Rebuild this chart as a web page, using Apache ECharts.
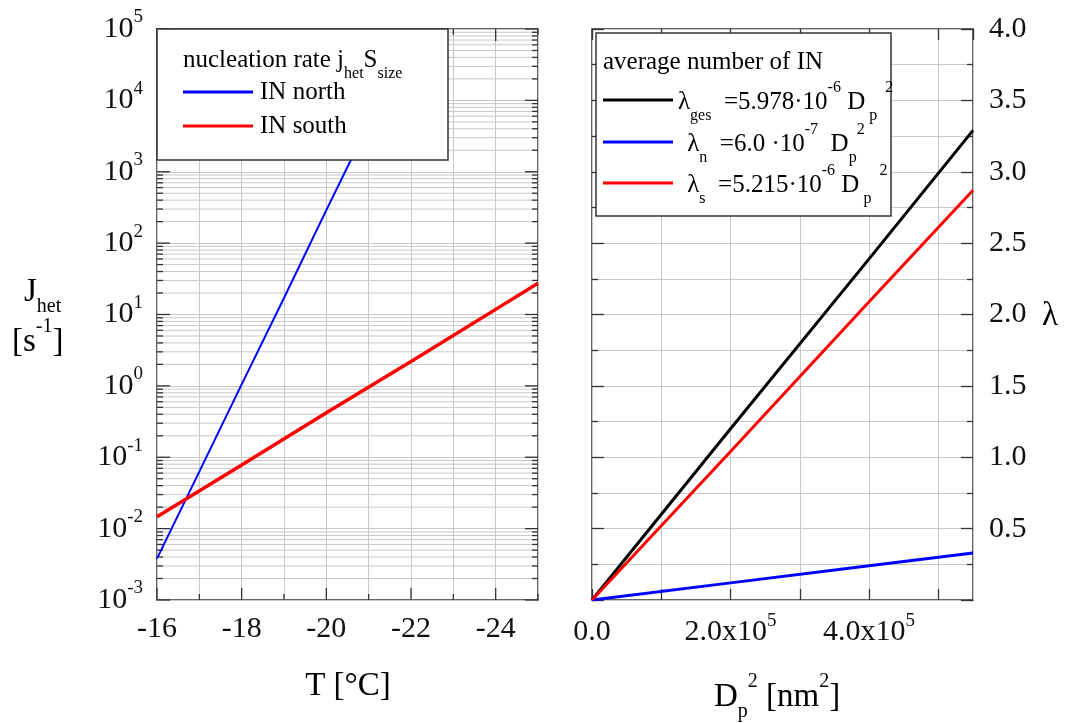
<!DOCTYPE html>
<html><head><meta charset="utf-8">
<script src="https://cdn.jsdelivr.net/npm/echarts@6/dist/echarts.min.js"></script>
<style>html,body{margin:0;padding:0;background:#fff}#c{width:1069px;height:723px}</style>
</head><body><div id="c"></div>
<script>
// ---- data ----
const T_NORTH = [-16, -17, -18, -19, -20, -21, -22];
const J_NORTH = [0.0038, 0.063, 1.05, 17, 290, 4700, 78000];
const T_SOUTH = [-16, -18, -20, -22, -24, -25];
const J_SOUTH = [0.0147, 0.078, 0.42, 2.2, 11.8, 27.4];
const DP2 = [0, 200000, 400000, 550000];
const LAMBDA_GES = [0, 1.2, 2.39, 3.29];
const LAMBDA_N = [0, 0.12, 0.24, 0.33];
const LAMBDA_S = [0, 1.04, 2.09, 2.87];
// ---- ticks ----
const T_TICKS = [-16, -17, -18, -19, -20, -21, -22, -23, -24, -25];
const LOG_EXPONENTS = [-3, -2, -1, 0, 1, 2, 3, 4, 5];
const MINOR_MANTISSAS = [2, 3, 4, 5, 6, 7, 8, 9];
const DP2_LABELS = { 0: '{b|0.0}', 200000: '{b|2.0x10}{e|5}', 400000: '{b|4.0x10}{e|5}' };

const FONT = 'Liberation Serif';
const AXIS_COLOR = '#333';
const GRID_COLOR = '#c8c8c8';

const decorData = [];
LOG_EXPONENTS.forEach(e => {
  decorData.push([-16, Math.pow(10, e), 1]);
  if (e < 5) MINOR_MANTISSAS.forEach(m => decorData.push([-16, m * Math.pow(10, e), 0]));
});
T_TICKS.forEach(t => decorData.push([t, 1, (t % 2 === 0) ? 3 : 2]));

function decor(params, api) {
  const xv = api.value(0), yv = api.value(1), k = api.value(2);
  const gray = { stroke: GRID_COLOR, lineWidth: 1 };
  const dark = { stroke: AXIS_COLOR, lineWidth: 1.3 };
  const kids = [];
  if (k <= 1) {
    const pl = api.coord([-16, yv]), pr = api.coord([-25, yv]);
    const y = pl[1], len = k === 1 ? 13 : 6;
    if (k === 0) kids.push({ type: 'line', shape: { x1: pl[0], y1: y, x2: pr[0], y2: y }, style: gray });
    kids.push({ type: 'line', shape: { x1: pl[0], y1: y, x2: pl[0] + len, y2: y }, style: dark });
    kids.push({ type: 'line', shape: { x1: pr[0], y1: y, x2: pr[0] - len, y2: y }, style: dark });
  } else {
    const pb = api.coord([xv, 1e-3]), pt = api.coord([xv, 1e5]);
    const len = k === 3 ? 12 : 6;
    kids.push({ type: 'line', shape: { x1: pb[0], y1: pb[1], x2: pb[0], y2: pb[1] - len }, style: dark });
    kids.push({ type: 'line', shape: { x1: pt[0], y1: pt[1], x2: pt[0], y2: pt[1] + len }, style: dark });
  }
  return { type: 'group', children: kids };
}

const legRich = {
  m: { fontFamily: FONT, fontSize: 25, lineHeight: 44, color: '#111' },
  sup: { fontFamily: FONT, fontSize: 16, lineHeight: 24, verticalAlign: 'top', color: '#111' },
  sub: { fontFamily: FONT, fontSize: 16, lineHeight: 14, verticalAlign: 'bottom', color: '#111' }
};
const axRich = {
  m: { fontFamily: FONT, fontSize: 33, lineHeight: 50, color: '#111' },
  sup: { fontFamily: FONT, fontSize: 20, lineHeight: 24, verticalAlign: 'top', color: '#111' },
  sub: { fontFamily: FONT, fontSize: 20, lineHeight: 18, verticalAlign: 'bottom', color: '#111' }
};
function txt(x, y, text, rich, align) {
  return { type: 'text', x: x, y: y, z: 100, style: { text: text, rich: rich, align: align || 'left', verticalAlign: 'middle' } };
}
function seg(x1, y1, x2, y2, color) {
  return { type: 'line', z: 100, shape: { x1, y1, x2, y2 }, style: { stroke: color, lineWidth: 3 } };
}
const tickStyle = { color: AXIS_COLOR, width: 1.3 };

const chart = echarts.init(document.getElementById('c'));
chart.setOption({
  backgroundColor: '#fff',
  animation: false,
  grid: [
    { left: 157, top: 29, width: 381, height: 571, show: true, borderColor: AXIS_COLOR, borderWidth: 1.5, backgroundColor: 'transparent' },
    { left: 592, top: 29, width: 381, height: 571, show: true, borderColor: AXIS_COLOR, borderWidth: 1.5, backgroundColor: 'transparent' }
  ],
  xAxis: [
    { gridIndex: 0, type: 'value', min: -25, max: -16, interval: 1, inverse: true,
      axisLine: { show: false, onZero: false }, axisTick: { show: false },
      splitLine: { show: true, lineStyle: { color: GRID_COLOR, width: 1 } },
      axisLabel: { fontFamily: FONT, fontSize: 30, color: '#111', margin: 14,
        formatter: v => (v % 2 === 0 ? String(v) : '') } },
    { gridIndex: 1, type: 'value', position: 'bottom', min: 0, max: 550000, interval: 100000,
      axisLine: { show: false, onZero: false },
      axisTick: { show: true, inside: true, length: 11, lineStyle: tickStyle },
      splitLine: { show: true, lineStyle: { color: GRID_COLOR, width: 1 } },
      axisLabel: { margin: 12, showMaxLabel: false, formatter: v => DP2_LABELS[v] || '',
        rich: { b: { fontFamily: FONT, fontSize: 30, lineHeight: 40, color: '#111' },
                e: { fontFamily: FONT, fontSize: 19, lineHeight: 22, verticalAlign: 'top', color: '#111' } } } },
    { gridIndex: 1, type: 'value', position: 'top', min: 0, max: 550000, interval: 100000,
      axisLine: { show: false, onZero: false }, axisLabel: { show: false }, splitLine: { show: false },
      axisTick: { show: true, inside: true, length: 11, lineStyle: tickStyle } }
  ],
  yAxis: [
    { gridIndex: 0, type: 'log', logBase: 10, min: 1e-3, max: 1e5,
      axisLine: { show: false, onZero: false }, axisTick: { show: false },
      splitLine: { show: true, lineStyle: { color: GRID_COLOR, width: 1 } },
      axisLabel: { margin: 14, formatter: v => '{b|10}{e|' + Math.round(Math.log10(v)) + '}',
        rich: { b: { fontFamily: FONT, fontSize: 30, lineHeight: 42, color: '#111' },
                e: { fontFamily: FONT, fontSize: 19, lineHeight: 22, verticalAlign: 'top', color: '#111' } } } },
    { gridIndex: 1, type: 'value', position: 'right', min: 0, max: 4, interval: 0.5,
      axisLine: { show: false, onZero: false },
      axisTick: { show: true, inside: true, length: 12, lineStyle: tickStyle },
      minorTick: { show: true, splitNumber: 2, length: 6, lineStyle: tickStyle },
      splitLine: { show: true, lineStyle: { color: GRID_COLOR, width: 1 } },
      minorSplitLine: { show: true, lineStyle: { color: GRID_COLOR, width: 1 } },
      axisLabel: { fontFamily: FONT, fontSize: 30, color: '#111', margin: 16,
        formatter: v => (v === 0 ? '' : v.toFixed(1)) } },
    { gridIndex: 1, type: 'value', position: 'left', min: 0, max: 4, interval: 0.5,
      axisLine: { show: false, onZero: false }, axisLabel: { show: false }, splitLine: { show: false },
      axisTick: { show: true, inside: true, length: 12, lineStyle: tickStyle },
      minorTick: { show: true, splitNumber: 2, length: 6, lineStyle: tickStyle } }
  ],
  series: [
    { type: 'custom', xAxisIndex: 0, yAxisIndex: 0, data: decorData, renderItem: decor, silent: true, clip: false, z: 1 },
    { type: 'line', name: 'IN north', xAxisIndex: 0, yAxisIndex: 0, data: T_NORTH.map((t, i) => [t, J_NORTH[i]]),
      showSymbol: false, lineStyle: { color: '#0000ff', width: 2 }, itemStyle: { color: '#0000ff' }, z: 3 },
    { type: 'line', name: 'IN south', xAxisIndex: 0, yAxisIndex: 0, data: T_SOUTH.map((t, i) => [t, J_SOUTH[i]]),
      showSymbol: false, lineStyle: { color: '#ff0000', width: 3.5 }, itemStyle: { color: '#ff0000' }, z: 3 },
    { type: 'line', name: 'ges', xAxisIndex: 1, yAxisIndex: 1, data: DP2.map((d, i) => [d, LAMBDA_GES[i]]),
      showSymbol: false, lineStyle: { color: '#000', width: 3 }, z: 3 },
    { type: 'line', name: 'n', xAxisIndex: 1, yAxisIndex: 1, data: DP2.map((d, i) => [d, LAMBDA_N[i]]),
      showSymbol: false, lineStyle: { color: '#0000ff', width: 3 }, z: 3 },
    { type: 'line', name: 's', xAxisIndex: 1, yAxisIndex: 1, data: DP2.map((d, i) => [d, LAMBDA_S[i]]),
      showSymbol: false, lineStyle: { color: '#ff0000', width: 3 }, z: 3 }
  ],
  graphic: [
    // left legend
    { type: 'rect', z: 99, shape: { x: 157, y: 29, width: 291, height: 131 }, style: { fill: '#fff', stroke: AXIS_COLOR, lineWidth: 1.5 } },
    txt(183, 60, '{m|nucleation rate j}{sub|het}{m|S}{sub|size}', legRich),
    seg(183, 92, 253, 92, '#0000ff'),
    txt(260, 92, '{m|IN north}', legRich),
    seg(183, 126, 253, 126, '#ff0000'),
    txt(260, 126, '{m|IN south}', legRich),
    // right legend
    { type: 'rect', z: 99, shape: { x: 596, y: 33, width: 295, height: 183 }, style: { fill: '#fff', stroke: AXIS_COLOR, lineWidth: 1.5 } },
    txt(603, 62, '{m|average number of IN}', legRich),
    seg(603, 100, 673, 100, '#000'),
    txt(678, 102, '{m|λ}{sub|ges}{m|  =5.978·10}{sup|-6}{m| D}{sub| p}{sup|  2}', legRich),
    seg(603, 142, 673, 142, '#0000ff'),
    txt(681, 144, '{m| λ}{sub|n}{m|  =6.0 ·10}{sup|-7}{m|  D}{sub|p}{sup|2}', legRich),
    seg(603, 183, 673, 183, '#ff0000'),
    txt(681, 185, '{m| λ}{sub|s}{m|  =5.215·10}{sup|-6}{m| D}{sub| p}{sup|  2}', legRich),
    // axis titles
    txt(24, 292, '{m|J}{sub|het}', axRich),
    txt(12, 342, '{m|[s}{sup|-1}{m|]}', axRich),
    txt(348, 686, '{m|T [°C]}', axRich, 'center'),
    txt(777, 697, '{m|D}{sub|p}{sup|2}{m| [nm}{sup|2}{m|]}', axRich, 'center'),
    txt(1050, 316, '{m|λ}', axRich, 'center')
  ]
});
</script>
</body></html>
